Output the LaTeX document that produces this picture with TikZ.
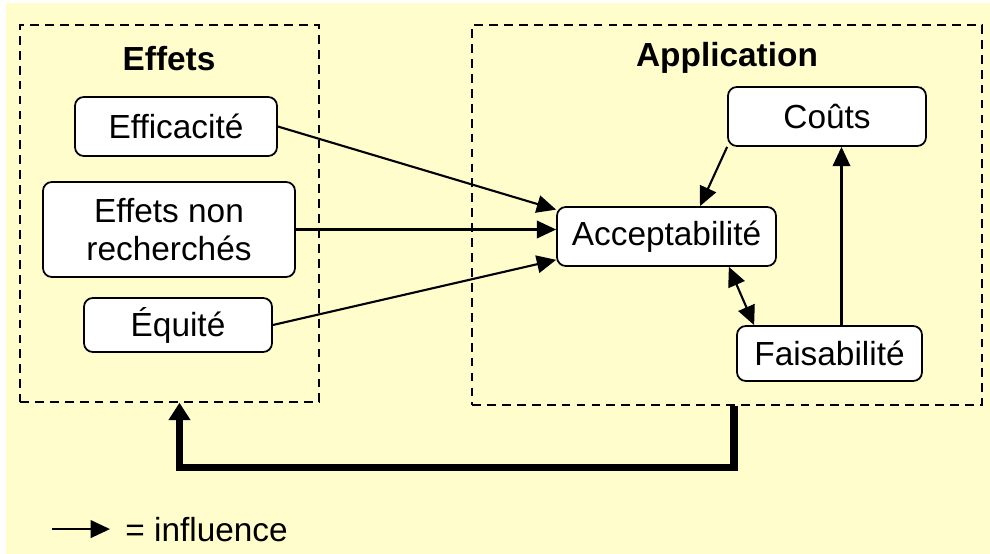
\documentclass[tikz,border=0pt]{standalone}
\usepackage{fontspec}
\setmainfont{Liberation Sans}
\usepackage{tikz}
\usetikzlibrary{arrows.meta}
\usetikzlibrary{positioning}
\definecolor{fond}{HTML}{FFFDCC}

\begin{document}
\begin{tikzpicture}[x=0.02cm, y=-0.02cm, >={Triangle[length=11pt,width=10pt]},
		boite/.style={draw, rounded corners=5pt, fill=white, line width=1pt, align=center, inner sep=2pt},
		groupe/.style={draw, line width=0.8pt, dash pattern=on 5pt off 3.5pt},
		fleche/.style={->, line width=1.2pt},
		titre/.style={font=\bfseries}]
			\fontsize{19}{22}\selectfont
			\useasboundingbox (0,0) rectangle (990,554);
			\fill[fond] (6,3) rectangle (990,554);
			% les deux groupes
			\node[groupe, minimum width=5.98cm, minimum height=7.54cm] (effets) at (169.5,213.5) {};
			\node[groupe, minimum width=10.2cm, minimum height=7.6cm] (appli) at (727,215) {};
			\node[titre] (tEffets) at (169,59) {Effets};
			\node[titre] (tAppli) at (727,58) {Application};
			% les boites
			\node[boite, minimum width=4.04cm, minimum height=1.18cm] (efficacite) at (176,126.5) {Efficacité};
			\node[boite, minimum width=5.04cm, minimum height=1.9cm] (nonrech) at (169,229.5) {Effets non\\recherchés};
			\node[boite, minimum width=3.76cm, minimum height=1.08cm] (equite) at (178,325) {Équité};
			\node[boite, minimum width=4.38cm, minimum height=1.18cm] (accept) at (666.5,236.5) {Acceptabilité};
			\node[boite, minimum width=3.96cm, minimum height=1.18cm] (couts) at (827,116.5) {Coûts};
			\node[boite, minimum width=3.7cm, minimum height=1.1cm] (faisab) at (829.5,353.5) {Faisabilité};
			% les influences
			\draw[fleche] (efficacite.east) -- ([yshift=-2pt]accept.north west);
			\draw[fleche] (nonrech.east) -- (nonrech.east -| accept.west);
			\draw[fleche] (equite.east) -- ([yshift=4pt]accept.south west);
			\draw[fleche] (couts.south west) -- ([xshift=0.67cm]accept.north);
			\draw[fleche, <->] ([xshift=-0.96cm]accept.south east) -- ([xshift=0.36cm]faisab.north west);
			\draw[fleche] ([xshift=0.24cm]faisab.north) -- ([xshift=0.24cm]faisab.north |- couts.south);
			\draw[-{Triangle[length=10pt,width=12pt]}, line width=4pt] ([xshift=0.14cm]appli.south) -- ++(0,62) -| ([xshift=0.2cm]effets.south);
			% legende
			\node[anchor=base west, inner sep=0pt] (legende) at (125,541) {= influence};
			\draw[fleche] ([xshift=-1.46cm]legende.west) -- ([xshift=-0.3cm]legende.west);
		\end{tikzpicture}
\end{document}
